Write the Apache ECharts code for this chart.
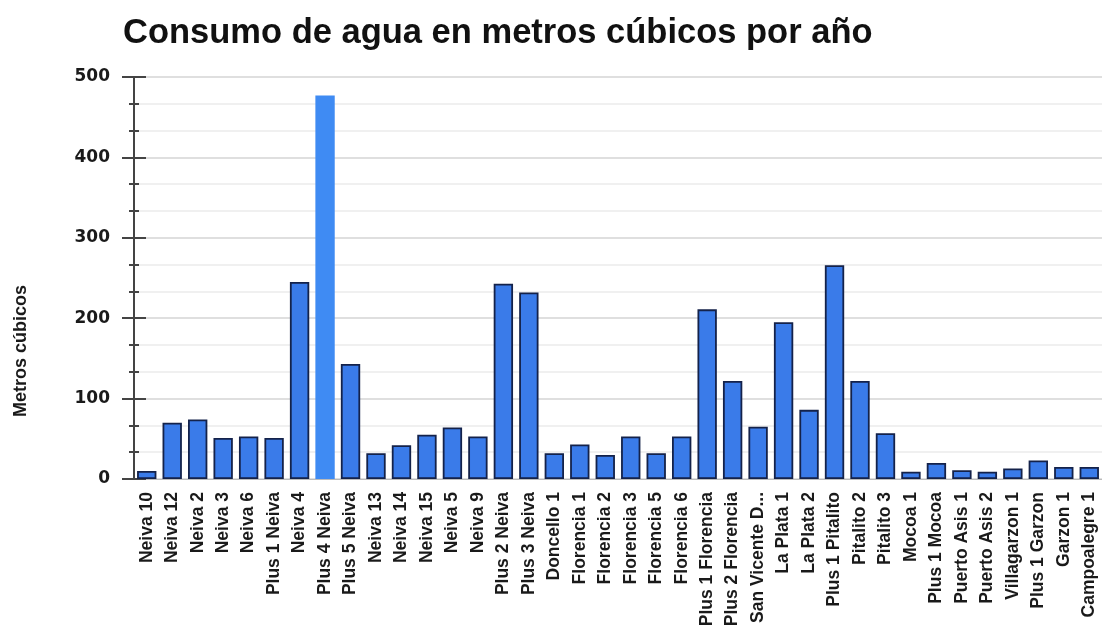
<!DOCTYPE html>
<html>
<head>
<meta charset="utf-8">
<script src="https://cdn.jsdelivr.net/npm/echarts@6/dist/echarts.min.js"></script>
<style>
  html, body { margin: 0; padding: 0; background: #ffffff; }
  #chart { width: 1102px; height: 632px; }
</style>
</head>
<body>
<div id="chart"></div>
<script>
// Sitios de medición
const sitios = [
  'Neiva 10', 'Neiva 12', 'Neiva 2', 'Neiva 3', 'Neiva 6', 'Plus 1 Neiva', 'Neiva 4',
  'Plus 4 Neiva', 'Plus 5 Neiva', 'Neiva 13', 'Neiva 14', 'Neiva 15', 'Neiva 5', 'Neiva 9',
  'Plus 2 Neiva', 'Plus 3 Neiva', 'Doncello 1', 'Florencia 1', 'Florencia 2', 'Florencia 3',
  'Florencia 5', 'Florencia 6', 'Plus 1 Florencia', 'Plus 2 Florencia', 'San Vicente D...',
  'La Plata 1', 'La Plata 2', 'Plus 1 Pitalito', 'Pitalito 2', 'Pitalito 3', 'Mocoa 1',
  'Plus 1 Mocoa', 'Puerto Asis 1', 'Puerto Asis 2', 'Villagarzon 1', 'Plus 1 Garzon',
  'Garzon 1', 'Campoalegre 1'
];

// Consumo anual (m³) por sitio
const consumo = [
  10, 70, 74, 51, 53, 51, 245,
  477, 143, 32, 42, 55, 64, 53,
  243, 232, 32, 43, 30, 53,
  32, 53, 211, 122, 65,
  195, 86, 266, 122, 57, 9,
  20, 11, 9, 13, 23,
  15, 15
];

// Sitio resaltado
const resaltado = 'Plus 4 Neiva';

// Eje Y
const yMin = 0;
const yMax = 500;
const yPaso = 100;

// Área de trazado
const gridLeft = 134;
const gridRight = -5;

const chart = echarts.init(document.getElementById('chart'), null, { renderer: 'canvas' });

const barras = sitios.map((s, i) => {
  if (s === resaltado) {
    return {
      value: consumo[i],
      itemStyle: { color: '#3f8bf3', borderWidth: 0 }
    };
  }
  return consumo[i];
});

const ejeComun = {
  type: 'value',
  min: yMin,
  max: yMax,
  interval: yPaso,
  position: 'left'
};

const fuente = 'Liberation Sans, Arial, sans-serif';
const colorMarca = '#444444';

chart.setOption({
  backgroundColor: '#ffffff',
  animation: false,
  title: {
    text: 'Consumo de agua en metros cúbicos por año',
    left: 118,
    top: 11,
    textStyle: {
      fontFamily: fuente,
      fontWeight: 'bold',
      fontSize: 34.5,
      color: '#111111'
    }
  },
  graphic: [{
    type: 'text',
    left: 12,
    top: 285,
    style: {
      text: 'Metros cúbicos',
      font: 'bold 18px ' + fuente,
      fill: '#1a1a1a'
    },
    rotation: Math.PI / 2,
    originX: 0,
    originY: 0
  }],
  grid: {
    left: gridLeft,
    right: gridRight,
    top: 77,
    bottom: 153,
    containLabel: false
  },
  xAxis: {
    type: 'category',
    data: sitios,
    axisLine: { show: true, lineStyle: { color: '#bbbbbb', width: 1 } },
    axisTick: { show: false },
    axisLabel: {
      rotate: 90,
      interval: 0,
      margin: 13,
      fontFamily: fuente,
      fontWeight: 'bold',
      fontSize: 17.5,
      color: '#1a1a1a'
    },
    splitLine: { show: false }
  },
  yAxis: [
    Object.assign({}, ejeComun, {
      axisLine: { show: true, lineStyle: { color: colorMarca, width: 2 } },
      axisTick: { show: true, inside: false, length: 12, lineStyle: { color: colorMarca, width: 2 } },
      minorTick: { show: true, splitNumber: 3, length: 5, lineStyle: { color: colorMarca, width: 2 } },
      axisLabel: {
        margin: 24,
        fontFamily: 'DejaVu Sans, sans-serif',
        fontWeight: 'bold',
        fontSize: 17,
        color: '#1a1a1a'
      },
      splitLine: { show: true, lineStyle: { color: '#d4d4d4', width: 1.5 } },
      minorSplitLine: { show: true, lineStyle: { color: '#ececec', width: 1.5 } }
    }),
    // Segunda copia del eje sobre la misma línea: marcas hacia el interior
    Object.assign({}, ejeComun, {
      axisLine: { show: true, lineStyle: { color: 'rgba(0,0,0,0)', width: 1 } },
      axisTick: { show: true, inside: true, length: 12, lineStyle: { color: colorMarca, width: 2 } },
      minorTick: { show: true, splitNumber: 3, length: 5, lineStyle: { color: colorMarca, width: 2 } },
      axisLabel: { show: false },
      splitLine: { show: false },
      minorSplitLine: { show: false }
    })
  ],
  series: [{
    type: 'bar',
    data: barras,
    yAxisIndex: 0,
    barCategoryGap: '24%',
    itemStyle: {
      color: '#3a7be9',
      borderColor: '#14224a',
      borderWidth: 1.8
    }
  }]
});
</script>
</body>
</html>
